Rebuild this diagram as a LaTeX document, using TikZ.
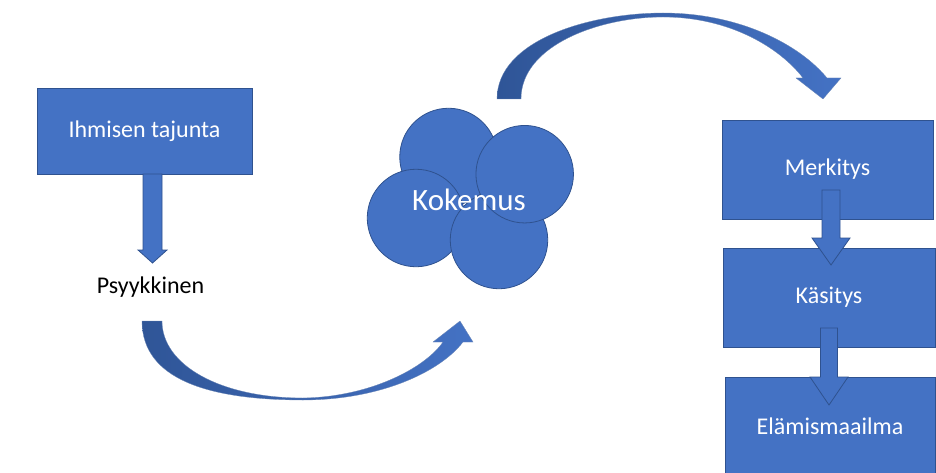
\documentclass[tikz,border=0pt]{standalone}
\usepackage{fontspec}
\setmainfont{Carlito}
\usetikzlibrary{positioning, calc}

\definecolor{boxblue}{HTML}{4472C4}
\definecolor{edgeblue}{HTML}{2F528F}
\definecolor{darkblue}{HTML}{2F5597}

% straight block arrow: start, tip, shaft half width, head half width, head length
\newcommand{\blockarrow}[5]{%
  \draw[blockarr] ($(#1)+(-#3,0)$) -- ($(#1 |- #2)+(-#3,-#5)$) -- ($(#1 |- #2)+(-#4,-#5)$)
    -- (#1 |- #2) -- ($(#1 |- #2)+(#4,-#5)$) -- ($(#1 |- #2)+(#3,-#5)$) -- ($(#1)+(#3,0)$) -- cycle;}

\begin{document}
\begin{tikzpicture}[
            x=1pt, y=-1pt,
            box/.style={draw=edgeblue, line width=0.8pt, fill=boxblue, text=white, inner sep=0pt,
                font=\fontsize{24}{28}\selectfont},
            blob/.style={draw=edgeblue, line width=0.8pt, fill=boxblue, circle, minimum size=97.5pt, inner sep=0pt},
            blockarr/.style={draw=edgeblue, line width=0.8pt, fill=boxblue},
            curvearr/.style={draw=darkblue!70, line width=0.3pt, left color=darkblue, right color=boxblue}
        ]
        \useasboundingbox (0,0) rectangle (936,473);

        % ======================================
        % Left: Ihmisen tajunta -> Psyykkinen
        % ======================================
        \node[box, minimum width=215pt, minimum height=86pt] (ihm) at (144.5,131) {Ihmisen tajunta};
        \node[font=\fontsize{24}{28}\selectfont, inner sep=2pt] (psy) at (150.5,287) {Psyykkinen};

        \coordinate (ihm-out) at (152.5,174);
        \coordinate (psy-in) at (152.5,263);
        \blockarrow{ihm-out}{psy-in}{9.5}{14.5}{13}

        % ======================================
        % Kokemus (circles)
        % ======================================
        \foreach \name / \cx / \cy in {c1/448.5/157, c2/416/218, c3/499/240, c4/524.7/174.2}
        \node[blob] (\name) at (\cx,\cy) {};
        \node[text=white, font=\fontsize{31}{36}\selectfont] (kok) at (469,200) {Kokemus};

        % ======================================
        % Right: Merkitys -> Kasitys -> Elamismaailma
        % ======================================
        \node[box, minimum width=211pt, minimum height=99pt] (merk) at (827.5,169.5) {Merkitys};
        \node[box, minimum width=212pt, minimum height=99pt] (kas) at (829,297.5) {Käsitys};
        \node[box, minimum width=210pt, minimum height=99pt] (ela) at (830,426.5) {Elämismaailma};

        \coordinate (merk-out) at (831,190);
        \coordinate (kas-in) at (831,265);
        \blockarrow{merk-out}{kas-in}{9}{19}{27}

        \coordinate (kas-out) at (829,328);
        \coordinate (ela-in) at (829,405);
        \blockarrow{kas-out}{ela-in}{8.5}{19}{28}

        % ======================================
        % Curved arrows
        % ======================================
        % Psyykkinen -> Kokemus
        \draw[curvearr] (142,321) .. controls (142,380) and (210,400) .. (303,400)
            .. controls (380,400) and (440,372) .. (463,342) -- (473,342) -- (460,321) -- (433,342) -- (443,342)
            .. controls (425,368) and (370,397) .. (303,398) .. controls (220,398) and (162,365) .. (162,321) -- cycle;

        % Kokemus -> Merkitys
        \draw[curvearr] (497,99) .. controls (497,40) and (590,13) .. (663,13)
            .. controls (740,13) and (800,45) .. (827,78) -- (841,78) -- (823,99) -- (796,78) -- (803,78)
            .. controls (780,48) and (730,17) .. (663,17) .. controls (600,17) and (521,45) .. (521,99) -- cycle;

    \end{tikzpicture}
\end{document}
